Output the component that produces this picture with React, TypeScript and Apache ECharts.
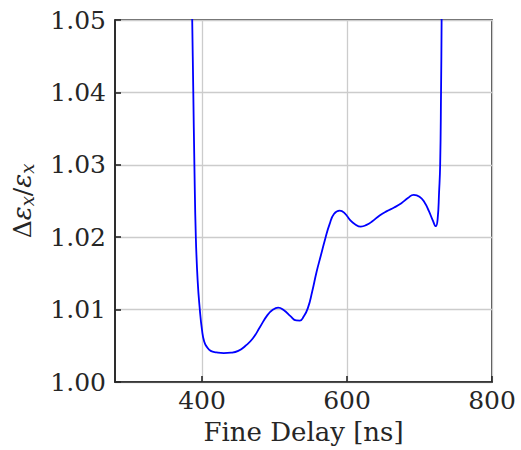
import React, { useEffect, useRef } from "react";
import * as echarts from "echarts";

const delayNs: number[] = [
  385, 386.5, 388, 389.5, 391.5, 394, 397, 400, 403, 407, 412, 420,
  430, 440, 450, 460, 470, 480, 490, 498, 505, 513, 522, 530,
  535, 540, 546, 552, 558, 564, 570, 576, 582, 590, 597, 604,
  611, 619, 627, 635, 645, 655, 665, 675, 684, 692, 700, 707,
  713, 718, 722.5, 725, 727, 728.5, 729.7, 730.5, 731,
];
const emittanceRatio: number[] = [
  1.06, 1.05, 1.04, 1.03, 1.02, 1.014, 1.01, 1.0072, 1.0056, 1.0048, 1.0043, 1.0041,
  1.004, 1.00405, 1.0043, 1.005, 1.006, 1.0076, 1.0092, 1.01, 1.01026, 1.0099, 1.0091, 1.0085,
  1.00848, 1.009, 1.0102, 1.0125, 1.0152, 1.0175, 1.0198, 1.0218, 1.0232, 1.02367, 1.0233, 1.0224,
  1.0218, 1.02147, 1.0217, 1.0222, 1.023, 1.0236, 1.0241, 1.0247, 1.0254, 1.02585, 1.0256, 1.0248,
  1.0236, 1.0224, 1.02152, 1.0225, 1.0262, 1.03, 1.04, 1.05, 1.06,
];
const xTickValues: number[] = [400, 600, 800];
const xRange = { min: 280, max: 800 };
const yRange = { min: 1.0, max: 1.05, interval: 0.01 };

const FONT = "DejaVu Serif";
const DARK = "#262626";
const FS = 25;

export default function App() {
  const ref = useRef<HTMLDivElement>(null);
  useEffect(() => {
    if (!ref.current) return;
    const chart = echarts.init(ref.current, undefined, { renderer: "svg" });
    const data = delayNs.map((x, i) => [x, emittanceRatio[i]]);
    chart.setOption({
      animation: false,
      backgroundColor: "#ffffff",
      grid: {
        left: 113,
        right: 29,
        top: 20,
        bottom: 66,
        show: true,
        borderColor: DARK,
        borderWidth: 1.6,
        backgroundColor: "transparent",
      },
      xAxis: {
        type: "value",
        min: xRange.min,
        max: xRange.max,
        interval: 40,
        axisLabel: {
          fontFamily: FONT,
          fontSize: FS,
          color: DARK,
          margin: 6,
          customValues: xTickValues,
          formatter: (v: number) => String(v),
        },
        axisLine: { show: true, lineStyle: { color: DARK, width: 1.6 } },
        axisTick: {
          show: true,
          inside: true,
          length: 6,
          customValues: xTickValues,
          lineStyle: { color: DARK, width: 1.6 },
        },
        splitLine: { show: true, lineStyle: { color: "#cccccc", width: 1.3 } },
        name: "Fine Delay [ns]",
        nameLocation: "middle",
        nameGap: 37,
        nameTextStyle: { fontFamily: FONT, fontSize: 26, color: DARK },
      },
      yAxis: {
        type: "value",
        min: yRange.min,
        max: yRange.max,
        interval: yRange.interval,
        axisLabel: {
          fontFamily: FONT,
          fontSize: FS,
          color: DARK,
          margin: 9,
          formatter: (v: number) => v.toFixed(2),
        },
        axisLine: { show: true, lineStyle: { color: DARK, width: 1.6 } },
        axisTick: { show: true, inside: true, length: 6, lineStyle: { color: DARK, width: 1.6 } },
        splitLine: { show: true, lineStyle: { color: "#cccccc", width: 1.3 } },
        name: "{n|Δ}{i|ε}{s|x}{n|/}{i|ε}{s|x}",
        nameLocation: "middle",
        nameGap: 78,
        nameRotate: 90,
        nameTextStyle: {
          fontFamily: FONT,
          fontSize: 25,
          color: DARK,
          rich: {
            n: { fontFamily: FONT, fontSize: 25, color: DARK, lineHeight: 30 },
            i: { fontFamily: FONT, fontSize: 26, fontStyle: "italic", color: DARK, lineHeight: 30 },
            s: { fontFamily: FONT, fontSize: 18, fontStyle: "italic", color: DARK, padding: [10, 0, 0, 0], lineHeight: 30 },
          },
        },
      },
      series: [
        {
          type: "line",
          data,
          showSymbol: false,
          smooth: 0.5,
          clip: true,
          lineStyle: { color: "#0000ff", width: 1.8 },
        },
      ],
    });
    return () => chart.dispose();
  }, []);
  return (
    <div
      ref={ref}
      style={{ position: "fixed", left: 0, top: 0, width: 521, height: 450 }}
    />
  );
}
